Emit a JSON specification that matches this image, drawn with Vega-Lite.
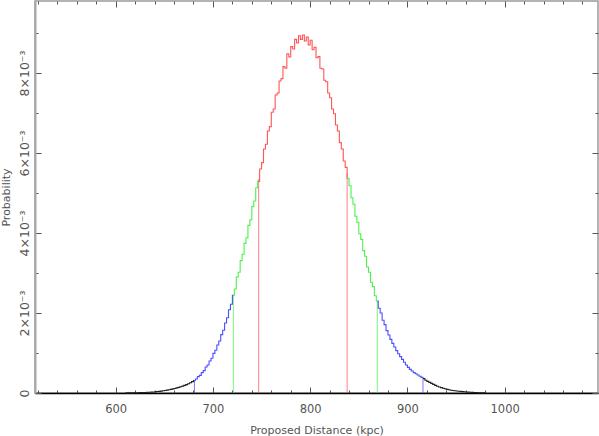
{
  "$schema": "https://vega.github.io/schema/vega-lite/v6.json",
  "width": 563,
  "height": 392,
  "autosize": {"type": "none"},
  "padding": {"left": 35, "top": 1, "right": 1, "bottom": 43},
  "background": "white",
  "config": {
    "view": {"stroke": "#9a9a9a", "strokeWidth": 1.5},
    "axis": {"labelFont": "DejaVu Sans", "titleFont": "DejaVu Sans", "labelColor": "#555", "titleColor": "#555", "labelFontSize": 11, "titleFontSize": 11, "titleFontWeight": "normal", "grid": false, "tickColor": "#555"}
  },
  "datasets": {
    "bounds": [
      {"x": 681, "p": 0.31e-3, "s": "b1"},
      {"x": 721, "p": 2.44e-3, "s": "g1"},
      {"x": 747, "p": 5.35e-3, "s": "r"},
      {"x": 838, "p": 5.5e-3, "s": "r"},
      {"x": 869, "p": 2.3e-3, "s": "g2"},
      {"x": 916, "p": 0.37e-3, "s": "b2"}
    ],
    "hist": [
      {"x":610,"p":0.003e-3,"s":"t1"},{"x":612,"p":0.003e-3,"s":"t1"},{"x":614,"p":0.004e-3,"s":"t1"},{"x":616,"p":0.004e-3,"s":"t1"},{"x":618,"p":0.005e-3,"s":"t1"},
      {"x":620,"p":0.006e-3,"s":"t1"},{"x":622,"p":0.007e-3,"s":"t1"},{"x":624,"p":0.009e-3,"s":"t1"},{"x":626,"p":0.010e-3,"s":"t1"},{"x":628,"p":0.012e-3,"s":"t1"},
      {"x":630,"p":0.014e-3,"s":"t1"},{"x":632,"p":0.017e-3,"s":"t1"},{"x":634,"p":0.019e-3,"s":"t1"},{"x":636,"p":0.023e-3,"s":"t1"},{"x":638,"p":0.026e-3,"s":"t1"},
      {"x":640,"p":0.031e-3,"s":"t1"},{"x":642,"p":0.036e-3,"s":"t1"},{"x":644,"p":0.041e-3,"s":"t1"},{"x":646,"p":0.048e-3,"s":"t1"},{"x":648,"p":0.055e-3,"s":"t1"},
      {"x":650,"p":0.063e-3,"s":"t1"},{"x":652,"p":0.073e-3,"s":"t1"},{"x":654,"p":0.083e-3,"s":"t1"},{"x":656,"p":0.091e-3,"s":"t1"},{"x":658,"p":0.102e-3,"s":"t1"},
      {"x":660,"p":0.114e-3,"s":"t1"},{"x":662,"p":0.127e-3,"s":"t1"},{"x":664,"p":0.141e-3,"s":"t1"},{"x":666,"p":0.156e-3,"s":"t1"},{"x":668,"p":0.172e-3,"s":"t1"},
      {"x":670,"p":0.190e-3,"s":"t1"},{"x":672,"p":0.209e-3,"s":"t1"},{"x":674,"p":0.232e-3,"s":"t1"},{"x":676,"p":0.257e-3,"s":"t1"},{"x":678,"p":0.284e-3,"s":"t1"},
      {"x":680,"p":0.313e-3,"s":"t1"},{"x":681,"p":0.313e-3,"s":"t1"},
      {"x":681,"p":0.313e-3,"s":"b1"},{"x":682,"p":0.35e-3,"s":"b1"},{"x":684,"p":0.41e-3,"s":"b1"},{"x":686,"p":0.44e-3,"s":"b1"},{"x":688,"p":0.51e-3,"s":"b1"},
      {"x":690,"p":0.56e-3,"s":"b1"},{"x":692,"p":0.65e-3,"s":"b1"},{"x":694,"p":0.70e-3,"s":"b1"},{"x":696,"p":0.80e-3,"s":"b1"},{"x":698,"p":0.87e-3,"s":"b1"},
      {"x":700,"p":0.99e-3,"s":"b1"},{"x":702,"p":1.07e-3,"s":"b1"},{"x":704,"p":1.20e-3,"s":"b1"},{"x":706,"p":1.30e-3,"s":"b1"},{"x":708,"p":1.46e-3,"s":"b1"},
      {"x":710,"p":1.57e-3,"s":"b1"},{"x":712,"p":1.75e-3,"s":"b1"},{"x":714,"p":1.88e-3,"s":"b1"},{"x":716,"p":2.08e-3,"s":"b1"},{"x":718,"p":2.22e-3,"s":"b1"},
      {"x":720,"p":2.44e-3,"s":"b1"},{"x":721,"p":2.44e-3,"s":"b1"},
      {"x":721,"p":2.44e-3,"s":"g1"},{"x":722,"p":2.60e-3,"s":"g1"},{"x":724,"p":2.90e-3,"s":"g1"},{"x":726,"p":3.02e-3,"s":"g1"},{"x":728,"p":3.31e-3,"s":"g1"},
      {"x":730,"p":3.47e-3,"s":"g1"},{"x":732,"p":3.74e-3,"s":"g1"},{"x":734,"p":3.88e-3,"s":"g1"},{"x":736,"p":4.19e-3,"s":"g1"},{"x":738,"p":4.33e-3,"s":"g1"},
      {"x":740,"p":4.66e-3,"s":"g1"},{"x":742,"p":4.80e-3,"s":"g1"},{"x":744,"p":5.13e-3,"s":"g1"},{"x":746,"p":5.29e-3,"s":"g1"},{"x":747,"p":5.29e-3,"s":"g1"},
      {"x":747,"p":5.29e-3,"s":"r"},{"x":748,"p":5.60e-3,"s":"r"},{"x":750,"p":5.76e-3,"s":"r"},{"x":752,"p":6.10e-3,"s":"r"},{"x":754,"p":6.22e-3,"s":"r"},
      {"x":756,"p":6.55e-3,"s":"r"},{"x":758,"p":6.66e-3,"s":"r"},{"x":760,"p":7.02e-3,"s":"r"},{"x":762,"p":7.10e-3,"s":"r"},{"x":764,"p":7.45e-3,"s":"r"},
      {"x":766,"p":7.50e-3,"s":"r"},{"x":768,"p":7.80e-3,"s":"r"},{"x":770,"p":7.86e-3,"s":"r"},{"x":772,"p":8.16e-3,"s":"r"},{"x":774,"p":8.12e-3,"s":"r"},
      {"x":776,"p":8.48e-3,"s":"r"},{"x":778,"p":8.40e-3,"s":"r"},{"x":780,"p":8.66e-3,"s":"r"},{"x":782,"p":8.60e-3,"s":"r"},{"x":784,"p":8.84e-3,"s":"r"},
      {"x":786,"p":8.75e-3,"s":"r"},{"x":788,"p":8.93e-3,"s":"r"},{"x":790,"p":8.84e-3,"s":"r"},{"x":792,"p":8.95e-3,"s":"r"},{"x":794,"p":8.80e-3,"s":"r"},
      {"x":796,"p":8.90e-3,"s":"r"},{"x":798,"p":8.70e-3,"s":"r"},{"x":800,"p":8.82e-3,"s":"r"},{"x":802,"p":8.58e-3,"s":"r"},{"x":804,"p":8.64e-3,"s":"r"},
      {"x":806,"p":8.38e-3,"s":"r"},{"x":808,"p":8.41e-3,"s":"r"},{"x":810,"p":8.12e-3,"s":"r"},{"x":812,"p":8.10e-3,"s":"r"},{"x":814,"p":7.82e-3,"s":"r"},
      {"x":816,"p":7.78e-3,"s":"r"},{"x":818,"p":7.50e-3,"s":"r"},{"x":820,"p":7.38e-3,"s":"r"},{"x":822,"p":7.10e-3,"s":"r"},{"x":824,"p":6.98e-3,"s":"r"},
      {"x":826,"p":6.70e-3,"s":"r"},{"x":828,"p":6.55e-3,"s":"r"},{"x":830,"p":6.26e-3,"s":"r"},{"x":832,"p":6.10e-3,"s":"r"},{"x":834,"p":5.80e-3,"s":"r"},
      {"x":836,"p":5.64e-3,"s":"r"},{"x":838,"p":5.36e-3,"s":"r"},
      {"x":838,"p":5.36e-3,"s":"g2"},{"x":840,"p":5.18e-3,"s":"g2"},{"x":842,"p":4.88e-3,"s":"g2"},{"x":844,"p":4.72e-3,"s":"g2"},{"x":846,"p":4.42e-3,"s":"g2"},
      {"x":848,"p":4.27e-3,"s":"g2"},{"x":850,"p":3.98e-3,"s":"g2"},{"x":852,"p":3.84e-3,"s":"g2"},{"x":854,"p":3.56e-3,"s":"g2"},{"x":856,"p":3.42e-3,"s":"g2"},
      {"x":858,"p":3.15e-3,"s":"g2"},{"x":860,"p":3.02e-3,"s":"g2"},{"x":862,"p":2.77e-3,"s":"g2"},{"x":864,"p":2.66e-3,"s":"g2"},{"x":866,"p":2.43e-3,"s":"g2"},
      {"x":868,"p":2.30e-3,"s":"g2"},{"x":869,"p":2.30e-3,"s":"g2"},
      {"x":869,"p":2.30e-3,"s":"b2"},{"x":870,"p":2.12e-3,"s":"b2"},{"x":872,"p":2.00e-3,"s":"b2"},{"x":874,"p":1.82e-3,"s":"b2"},{"x":876,"p":1.71e-3,"s":"b2"},
      {"x":878,"p":1.56e-3,"s":"b2"},{"x":880,"p":1.45e-3,"s":"b2"},{"x":882,"p":1.34e-3,"s":"b2"},{"x":884,"p":1.24e-3,"s":"b2"},{"x":886,"p":1.15e-3,"s":"b2"},
      {"x":888,"p":1.06e-3,"s":"b2"},{"x":890,"p":0.98e-3,"s":"b2"},{"x":892,"p":0.91e-3,"s":"b2"},{"x":894,"p":0.84e-3,"s":"b2"},{"x":896,"p":0.77e-3,"s":"b2"},
      {"x":898,"p":0.70e-3,"s":"b2"},{"x":900,"p":0.64e-3,"s":"b2"},{"x":902,"p":0.59e-3,"s":"b2"},{"x":904,"p":0.55e-3,"s":"b2"},{"x":906,"p":0.51e-3,"s":"b2"},
      {"x":908,"p":0.48e-3,"s":"b2"},{"x":910,"p":0.45e-3,"s":"b2"},{"x":912,"p":0.42e-3,"s":"b2"},{"x":914,"p":0.39e-3,"s":"b2"},{"x":916,"p":0.36e-3,"s":"b2"},
      {"x":916,"p":0.36e-3,"s":"t2"},{"x":918,"p":0.32e-3,"s":"t2"},{"x":920,"p":0.29e-3,"s":"t2"},{"x":922,"p":0.265e-3,"s":"t2"},{"x":924,"p":0.24e-3,"s":"t2"},
      {"x":926,"p":0.215e-3,"s":"t2"},{"x":928,"p":0.19e-3,"s":"t2"},{"x":930,"p":0.17e-3,"s":"t2"},{"x":932,"p":0.15e-3,"s":"t2"},{"x":934,"p":0.135e-3,"s":"t2"},
      {"x":936,"p":0.12e-3,"s":"t2"},{"x":938,"p":0.105e-3,"s":"t2"},{"x":940,"p":0.09e-3,"s":"t2"},{"x":942,"p":0.08e-3,"s":"t2"},{"x":944,"p":0.07e-3,"s":"t2"},
      {"x":946,"p":0.062e-3,"s":"t2"},{"x":948,"p":0.055e-3,"s":"t2"},{"x":950,"p":0.05e-3,"s":"t2"},{"x":952,"p":0.045e-3,"s":"t2"},{"x":954,"p":0.04e-3,"s":"t2"},
      {"x":956,"p":0.035e-3,"s":"t2"},{"x":958,"p":0.03e-3,"s":"t2"},{"x":960,"p":0.025e-3,"s":"t2"},{"x":962,"p":0.021e-3,"s":"t2"},{"x":964,"p":0.018e-3,"s":"t2"},
      {"x":966,"p":0.015e-3,"s":"t2"},{"x":968,"p":0.012e-3,"s":"t2"},{"x":970,"p":0.01e-3,"s":"t2"},{"x":972,"p":0.008e-3,"s":"t2"},{"x":974,"p":0.006e-3,"s":"t2"},
      {"x":976,"p":0.005e-3,"s":"t2"},{"x":978,"p":0.004e-3,"s":"t2"},{"x":980,"p":0.003e-3,"s":"t2"}
    ]
  },
  "layer": [
    {
      "data": {"name": "bounds"},
      "mark": {"type": "rule", "strokeWidth": 1, "opacity": 0.75},
      "encoding": {
        "x": {
          "field": "x", "type": "quantitative",
          "scale": {"domain": [517, 1096], "nice": false, "zero": false},
          "axis": {
            "orient": "bottom",
            "values": [520,540,560,580,600,620,640,660,680,700,720,740,760,780,800,820,840,860,880,900,920,940,960,980,1000,1020,1040,1060,1080],
            "labelExpr": "datum.value % 100 === 0 ? datum.label : ''",
            "tickSize": {"condition": {"test": "datum.value % 100 === 0", "value": -6}, "value": -3},
            "domainColor": "#000", "domainWidth": 1.5,
            "labelPadding": 16,
            "labelFontSize": 11.5,
            "labelFlush": false,
            "labelOverlap": false,
            "format": "d",
            "title": "Proposed Distance (kpc)",
            "titlePadding": 7
          }
        },
        "y": {
          "field": "p", "type": "quantitative",
          "scale": {"domain": [0, 0.0098], "nice": false},
          "axis": {
            "orient": "left",
            "values": [0, 0.001, 0.002, 0.003, 0.004, 0.005, 0.006, 0.007, 0.008, 0.009],
            "labelExpr": "datum.value === 0 ? '0' : (round(datum.value*1000) % 2 === 0 ? round(datum.value*1000) + '×10⁻³' : '')",
            "tickSize": {"condition": {"test": "round(datum.value*1000) % 2 === 0", "value": -6}, "value": -3},
            "domainColor": "#a8a8a8", "domainWidth": 2,
            "labelAngle": -90, "labelAlign": "center", "labelBaseline": "bottom",
            "labelFontSize": 12.5,
            "labelPadding": 10,
            "labelFlush": false,
            "labelOverlap": false,
            "title": "Probability",
            "titlePadding": 4
          }
        },
        "y2": {"datum": 0},
        "color": {
          "field": "s", "type": "nominal",
          "scale": {"domain": ["t1", "b1", "g1", "r", "g2", "b2", "t2"], "range": ["#222222", "#4d4dff", "#4ef04e", "#ff5555", "#4ef04e", "#4d4dff", "#222222"]},
          "legend": null
        }
      }
    },
    {
      "data": {"name": "hist"},
      "mark": {"type": "line", "interpolate": "step-after", "strokeWidth": 1.1},
      "encoding": {
        "x": {
          "field": "x", "type": "quantitative",
          "axis": {
            "orient": "top",
            "values": [520,540,560,580,600,620,640,660,680,700,720,740,760,780,800,820,840,860,880,900,920,940,960,980,1000,1020,1040,1060,1080],
            "labels": false, "domain": false, "title": null,
            "tickSize": {"condition": {"test": "datum.value % 100 === 0", "value": -6}, "value": -3}
          }
        },
        "y": {
          "field": "p", "type": "quantitative",
          "axis": {
            "orient": "right",
            "values": [0, 0.001, 0.002, 0.003, 0.004, 0.005, 0.006, 0.007, 0.008, 0.009],
            "labels": false, "domain": false, "title": null,
            "tickSize": {"condition": {"test": "round(datum.value*1000) % 2 === 0", "value": -6}, "value": -3}
          }
        },
        "color": {"field": "s", "type": "nominal", "legend": null}
      }
    }
  ],
  "resolve": {"axis": {"x": "independent", "y": "independent"}}
}
